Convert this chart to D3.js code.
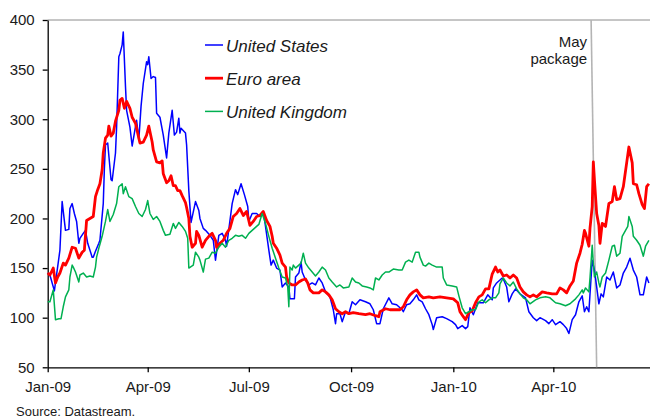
<!DOCTYPE html>
<html>
<head>
<meta charset="utf-8">
<script src="https://cdn.jsdelivr.net/npm/d3@7"></script>
<style>
body { margin: 0; background: #fff; }
svg text { font-family: "Liberation Sans", Arial, sans-serif; fill: #1a1a1a; }
</style>
</head>
<body>
<svg id="chart" width="650" height="418"></svg>
<script>
// ---- data ----
var xTicks = ["2009-01-01", "2009-04-01", "2009-07-01", "2009-10-01", "2010-01-01", "2010-04-01"];
var yTicks = [50, 100, 150, 200, 250, 300, 350, 400];
var xDomain = ["2009-01-01", "2010-06-27"];
var seriesNames = ["United States", "Euro area", "United Kingdom"];
var seriesColors = ["#0000ff", "#ff0000", "#00b050"];
var mayPackage = ["2010-05-05", "2010-05-10"];   // the marker is drawn a little slanted in the original
var mayLabel = ["May", "package"];
var sourceNote = "Source: Datastream.";

var usData = [
    ["2009-01-01",145],["2009-01-03",143],["2009-01-07",127],["2009-01-12",168],["2009-01-14",217],["2009-01-17",188],
    ["2009-01-20",189],["2009-01-21",210],["2009-01-23",215],["2009-01-25",205],["2009-01-27",197],["2009-01-29",175],
    ["2009-01-30",180],["2009-02-02",185],["2009-02-04",188],["2009-02-06",175],["2009-02-10",161],["2009-02-11",161],
    ["2009-02-13",167],["2009-02-16",175],["2009-02-17",178],["2009-02-20",215],["2009-02-21",250],["2009-02-22",274],
    ["2009-02-24",276],["2009-02-27",239],["2009-02-28",238],["2009-03-03",266],["2009-03-04",292],["2009-03-06",363],
    ["2009-03-07",366],["2009-03-09",375],["2009-03-10",388],["2009-03-12",333],["2009-03-13",309],["2009-03-16",292],
    ["2009-03-18",273],["2009-03-20",286],["2009-03-22",299],["2009-03-24",279],["2009-03-26",313],["2009-03-28",336],
    ["2009-03-31",358],["2009-04-01",355],["2009-04-02",363],["2009-04-04",341],["2009-04-06",343],["2009-04-08",342],
    ["2009-04-09",306],["2009-04-12",302],["2009-04-15",284],["2009-04-18",261],["2009-04-20",286],["2009-04-23",309],
    ["2009-04-25",284],["2009-04-27",287],["2009-04-29",301],["2009-04-30",286],["2009-05-01",291],["2009-05-05",286],
    ["2009-05-06",274],["2009-05-08",228],["2009-05-10",196],["2009-05-14",217],["2009-05-17",208],["2009-05-18",200],
    ["2009-05-21",190],["2009-05-23",188],["2009-05-27",183],["2009-05-30",178],["2009-06-01",158],["2009-06-04",183],
    ["2009-06-07",185],["2009-06-10",178],["2009-06-11",172],["2009-06-16",215],["2009-06-19",229],["2009-06-21",224],
    ["2009-06-24",235],["2009-06-27",224],["2009-06-30",212],["2009-07-01",197],["2009-07-04",205],["2009-07-08",205],
    ["2009-07-11",202],["2009-07-14",207],["2009-07-16",192],["2009-07-19",168],["2009-07-21",153],["2009-07-23",158],
    ["2009-07-26",150],["2009-07-29",148],["2009-07-31",131],["2009-08-03",135],["2009-08-06",131],["2009-08-07",119],
    ["2009-08-11",119],["2009-08-12",141],["2009-08-15",145],["2009-08-17",156],["2009-08-18",146],["2009-08-21",138],
    ["2009-08-24",133],["2009-08-27",135],["2009-08-30",133],["2009-09-02",140],["2009-09-05",135],["2009-09-08",126],
    ["2009-09-12",121],["2009-09-15",108],["2009-09-17",94],["2009-09-18",104],["2009-09-21",104],["2009-09-23",96],
    ["2009-09-26",106],["2009-09-29",104],["2009-10-02",116],["2009-10-05",113],["2009-10-09",118],["2009-10-14",116],
    ["2009-10-18",114],["2009-10-21",108],["2009-10-24",94],["2009-10-27",94],["2009-10-30",109],["2009-11-04",120],
    ["2009-11-07",114],["2009-11-11",113],["2009-11-16",108],["2009-11-17",106],["2009-11-20",113],["2009-11-23",114],
    ["2009-11-26",118],["2009-11-29",123],["2009-12-01",118],["2009-12-04",116],["2009-12-07",109],["2009-12-10",103],
    ["2009-12-13",93],["2009-12-14",88],["2009-12-17",100],["2009-12-22",101],["2009-12-26",99],["2009-12-31",96],
    ["2010-01-03",93],["2010-01-05",89],["2010-01-09",92],["2010-01-12",89],["2010-01-14",91],["2010-01-16",110],
    ["2010-01-19",103],["2010-01-20",106],["2010-01-23",115],["2010-01-28",115],["2010-02-01",123],["2010-02-05",118],
    ["2010-02-06",130],["2010-02-09",135],["2010-02-14",140],["2010-02-15",139],["2010-02-18",131],["2010-02-20",116],
    ["2010-02-23",124],["2010-02-26",129],["2010-03-02",124],["2010-03-07",120],["2010-03-10",106],["2010-03-14",100],
    ["2010-03-17",97],["2010-03-20",100],["2010-03-25",97],["2010-03-28",94],["2010-03-31",98],["2010-04-03",93],
    ["2010-04-07",96],["2010-04-10",93],["2010-04-13",89],["2010-04-15",84],["2010-04-18",98],["2010-04-21",103],
    ["2010-04-24",116],["2010-04-27",122],["2010-04-29",106],["2010-05-01",111],["2010-05-03",106],["2010-05-06",158],
    ["2010-05-08",148],["2010-05-10",131],["2010-05-12",114],["2010-05-14",124],["2010-05-16",121],["2010-05-19",141],
    ["2010-05-22",138],["2010-05-25",146],["2010-05-28",130],["2010-05-31",133],["2010-06-03",145],["2010-06-06",151],
    ["2010-06-09",160],["2010-06-12",148],["2010-06-15",141],["2010-06-18",123],["2010-06-21",123],["2010-06-24",141],
    ["2010-06-26",135]
];

var euroData = [
    ["2009-01-01",145],["2009-01-03",143],["2009-01-06",150],["2009-01-08",135],["2009-01-10",141],["2009-01-12",145],
    ["2009-01-15",155],["2009-01-17",153],["2009-01-20",160],["2009-01-23",171],["2009-01-26",170],["2009-01-29",160],
    ["2009-02-01",166],["2009-02-03",168],["2009-02-05",198],["2009-02-08",200],["2009-02-11",202],["2009-02-13",222],
    ["2009-02-15",229],["2009-02-17",235],["2009-02-19",249],["2009-02-20",266],["2009-02-22",281],["2009-02-24",284],
    ["2009-02-25",293],["2009-02-27",283],["2009-03-01",286],["2009-03-03",298],["2009-03-06",309],["2009-03-07",319],
    ["2009-03-09",321],["2009-03-11",311],["2009-03-13",318],["2009-03-16",311],["2009-03-18",302],["2009-03-21",296],
    ["2009-03-23",286],["2009-03-25",276],["2009-03-28",277],["2009-03-31",284],["2009-04-02",293],["2009-04-05",277],
    ["2009-04-06",269],["2009-04-09",257],["2009-04-12",256],["2009-04-14",258],["2009-04-15",245],["2009-04-18",236],
    ["2009-04-20",238],["2009-04-22",243],["2009-04-24",233],["2009-04-26",233],["2009-04-28",228],["2009-04-30",228],
    ["2009-05-02",223],["2009-05-05",216],["2009-05-06",211],["2009-05-08",200],["2009-05-09",182],["2009-05-11",171],
    ["2009-05-14",175],["2009-05-15",187],["2009-05-17",183],["2009-05-20",171],["2009-05-23",178],["2009-05-26",182],
    ["2009-05-29",185],["2009-06-01",178],["2009-06-02",171],["2009-06-05",175],["2009-06-08",178],["2009-06-11",185],
    ["2009-06-14",190],["2009-06-17",202],["2009-06-20",205],["2009-06-23",210],["2009-06-26",203],["2009-06-29",207],
    ["2009-07-02",193],["2009-07-05",197],["2009-07-08",202],["2009-07-11",203],["2009-07-14",207],["2009-07-17",198],
    ["2009-07-20",192],["2009-07-22",182],["2009-07-23",175],["2009-07-26",170],["2009-07-29",163],["2009-07-31",155],
    ["2009-08-03",151],["2009-08-04",141],["2009-08-06",135],["2009-08-09",133],["2009-08-12",133],["2009-08-15",136],
    ["2009-08-18",138],["2009-08-21",139],["2009-08-23",135],["2009-08-25",128],["2009-08-28",125],["2009-09-02",125],
    ["2009-09-05",128],["2009-09-08",126],["2009-09-11",123],["2009-09-14",118],["2009-09-17",109],["2009-09-20",106],
    ["2009-09-23",104],["2009-09-26",106],["2009-09-29",104],["2009-10-03",105],["2009-10-08",104],["2009-10-14",103],
    ["2009-10-18",104],["2009-10-23",102],["2009-10-26",101],["2009-10-27",106],["2009-11-01",109],["2009-11-05",108],
    ["2009-11-14",108],["2009-11-17",111],["2009-11-20",118],["2009-11-23",123],["2009-11-26",126],["2009-11-29",128],
    ["2009-12-02",123],["2009-12-05",120],["2009-12-10",121],["2009-12-14",120],["2009-12-20",121],["2009-12-26",120],
    ["2010-01-01",119],["2010-01-05",115],["2010-01-07",106],["2010-01-10",101],["2010-01-12",98],["2010-01-15",105],
    ["2010-01-18",107],["2010-01-21",115],["2010-01-24",121],["2010-01-27",123],["2010-01-30",129],["2010-02-02",129],
    ["2010-02-05",144],["2010-02-08",151],["2010-02-10",146],["2010-02-12",148],["2010-02-15",142],["2010-02-18",143],
    ["2010-02-21",140],["2010-02-24",143],["2010-02-27",140],["2010-03-02",131],["2010-03-05",126],["2010-03-08",123],
    ["2010-03-11",121],["2010-03-14",123],["2010-03-17",121],["2010-03-22",126],["2010-03-26",125],["2010-03-31",124],
    ["2010-04-04",124],["2010-04-07",130],["2010-04-10",128],["2010-04-13",125],["2010-04-16",132],["2010-04-19",137],
    ["2010-04-22",155],["2010-04-25",165],["2010-04-27",174],["2010-04-29",188],["2010-04-30",185],["2010-05-03",172],
    ["2010-05-04",190],["2010-05-06",212],["2010-05-07",257],["2010-05-08",239],["2010-05-10",205],["2010-05-12",193],
    ["2010-05-13",175],["2010-05-15",195],["2010-05-18",192],["2010-05-21",215],["2010-05-24",217],["2010-05-26",232],
    ["2010-05-28",219],["2010-05-31",220],["2010-06-03",232],["2010-06-06",256],["2010-06-08",272],["2010-06-11",256],
    ["2010-06-12",235],["2010-06-15",234],["2010-06-17",225],["2010-06-20",214],["2010-06-22",210],["2010-06-24",232],
    ["2010-06-26",235]
];

var ukData = [
    ["2009-01-01",116],["2009-01-03",116],["2009-01-06",128],["2009-01-08",98],["2009-01-11",99],["2009-01-13",99],
    ["2009-01-15",111],["2009-01-17",121],["2009-01-20",128],["2009-01-21",141],["2009-01-23",153],["2009-01-24",151],
    ["2009-01-26",146],["2009-01-29",136],["2009-01-30",143],["2009-02-02",145],["2009-02-05",141],["2009-02-08",142],
    ["2009-02-11",141],["2009-02-13",151],["2009-02-14",161],["2009-02-16",170],["2009-02-19",182],["2009-02-22",197],
    ["2009-02-24",209],["2009-02-26",197],["2009-03-01",204],["2009-03-04",215],["2009-03-06",232],["2009-03-09",235],
    ["2009-03-10",225],["2009-03-12",232],["2009-03-15",222],["2009-03-18",220],["2009-03-21",212],["2009-03-24",205],
    ["2009-03-27",202],["2009-03-30",209],["2009-04-01",218],["2009-04-03",205],["2009-04-06",199],["2009-04-09",202],
    ["2009-04-12",197],["2009-04-15",188],["2009-04-17",183],["2009-04-21",184],["2009-04-24",195],["2009-04-26",190],
    ["2009-04-29",196],["2009-05-02",192],["2009-05-05",187],["2009-05-07",180],["2009-05-08",150],["2009-05-12",153],
    ["2009-05-14",166],["2009-05-17",161],["2009-05-18",158],["2009-05-21",146],["2009-05-23",159],["2009-05-26",160],
    ["2009-05-29",166],["2009-06-01",165],["2009-06-04",171],["2009-06-07",175],["2009-06-10",171],["2009-06-13",178],
    ["2009-06-16",180],["2009-06-19",183],["2009-06-22",182],["2009-06-25",183],["2009-06-28",180],["2009-07-01",185],
    ["2009-07-04",188],["2009-07-07",191],["2009-07-10",194],["2009-07-13",205],["2009-07-16",195],["2009-07-19",182],
    ["2009-07-22",170],["2009-07-25",160],["2009-07-28",150],["2009-07-31",141],["2009-08-03",140],["2009-08-05",131],
    ["2009-08-06",111],["2009-08-07",151],["2009-08-09",148],["2009-08-10",153],["2009-08-12",150],["2009-08-15",153],
    ["2009-08-17",155],["2009-08-19",165],["2009-08-21",155],["2009-08-24",150],["2009-08-27",146],["2009-08-30",142],
    ["2009-09-02",146],["2009-09-05",151],["2009-09-08",148],["2009-09-11",140],["2009-09-14",136],["2009-09-18",131],
    ["2009-09-21",133],["2009-09-24",130],["2009-09-29",131],["2009-10-02",140],["2009-10-05",136],["2009-10-08",135],
    ["2009-10-11",132],["2009-10-15",131],["2009-10-18",130],["2009-10-21",128],["2009-10-23",140],["2009-10-26",138],
    ["2009-10-29",143],["2009-11-01",146],["2009-11-04",146],["2009-11-08",149],["2009-11-13",148],["2009-11-16",148],
    ["2009-11-19",156],["2009-11-22",158],["2009-11-25",156],["2009-11-28",166],["2009-12-01",166],["2009-12-02",161],
    ["2009-12-05",153],["2009-12-07",152],["2009-12-10",155],["2009-12-13",153],["2009-12-17",151],["2009-12-22",151],
    ["2009-12-23",140],["2009-12-26",133],["2009-12-31",132],["2010-01-04",131],["2010-01-06",122],["2010-01-09",110],
    ["2010-01-12",104],["2010-01-15",106],["2010-01-18",108],["2010-01-21",108],["2010-01-24",116],["2010-01-27",118],
    ["2010-01-30",115],["2010-02-02",118],["2010-02-05",120],["2010-02-08",120],["2010-02-11",125],["2010-02-12",134],
    ["2010-02-15",140],["2010-02-18",135],["2010-02-21",132],["2010-02-24",136],["2010-02-27",129],["2010-03-02",124],
    ["2010-03-05",120],["2010-03-08",118],["2010-03-11",114],["2010-03-16",118],["2010-03-20",120],["2010-03-25",121],
    ["2010-03-29",120],["2010-04-03",115],["2010-04-07",114],["2010-04-12",112],["2010-04-16",114],["2010-04-21",119],
    ["2010-04-24",123],["2010-04-27",128],["2010-04-28",125],["2010-04-30",130],["2010-05-03",126],["2010-05-04",140],
    ["2010-05-06",173],["2010-05-07",155],["2010-05-08",141],["2010-05-10",146],["2010-05-12",135],["2010-05-13",131],
    ["2010-05-15",141],["2010-05-18",145],["2010-05-21",158],["2010-05-24",172],["2010-05-26",173],["2010-05-28",162],
    ["2010-05-31",165],["2010-06-02",182],["2010-06-05",188],["2010-06-07",192],["2010-06-08",202],["2010-06-11",192],
    ["2010-06-12",182],["2010-06-15",178],["2010-06-18",173],["2010-06-21",162],["2010-06-23",172],["2010-06-26",178]
];

var seriesData = [usData, euroData, ukData];
var seriesWidths = [1.5, 2.8, 1.5];

// ---- drawing ----
function draw_chart() {
    var svg = d3.select("#chart"),
        parse = d3.timeParse("%Y-%m-%d"),
        margins = {"left": 47.7, "right": 0, "top": 20, "bottom": 50.7},
        width = 650,
        height = 418;

    var x = d3.scaleTime().domain(xDomain.map(parse)).range([margins.left, width - margins.right]),
        y = d3.scaleLinear().domain([50, 400]).range([height - margins.bottom, margins.top]);

    // gray frame line along the top
    svg.append("line")
        .attr("x1", margins.left).attr("x2", width)
        .attr("y1", y(400)).attr("y2", y(400))
        .attr("stroke", "#8c8c8c").attr("stroke-width", 1);

    var yAxis = svg.append("g").attr("transform", "translate(" + [margins.left, 0] + ")")
        .call(d3.axisLeft(y).tickValues(yTicks).tickSize(5).tickSizeOuter(0).tickPadding(8));
    var xAxis = svg.append("g").attr("transform", "translate(" + [0, y(50)] + ")")
        .call(d3.axisBottom(x).tickValues(xTicks.map(parse)).tickFormat(d3.timeFormat("%b-%y"))
            .tickSize(5).tickSizeOuter(0).tickPadding(9));

    [yAxis, xAxis].forEach(function(ax) {
        ax.select(".domain").attr("stroke", "#000").attr("stroke-width", 1.3);
        ax.selectAll(".tick line").attr("stroke", "#000").attr("stroke-width", 1.3);
        ax.selectAll(".tick text").style("font-size", "15px")
            .style("font-family", "\"Liberation Sans\", Arial, sans-serif").attr("fill", "#1a1a1a");
    });

    // May package marker
    var pk = mayPackage.map(parse);
    svg.append("line")
        .attr("x1", x(pk[0])).attr("y1", y(400))
        .attr("x2", x(pk[1])).attr("y2", y(50))
        .attr("stroke", "#b4b4b4").attr("stroke-width", 1.6);

    svg.append("text").attr("text-anchor", "end").style("font-size", "15px")
        .selectAll("tspan").data(mayLabel).enter().append("tspan")
        .attr("x", x(pk[0]) - 4)
        .attr("y", (d, i) => 46.5 + i * 17)
        .text(d => d);

    var line = d3.line()
        .x(d => x(parse(d[0])))
        .y(d => y(d[1]));

    svg.append("g").selectAll("path")
        .data(seriesData)
        .enter().append("path")
        .attr("fill", "none")
        .attr("stroke", (d, i) => seriesColors[i])
        .attr("stroke-width", (d, i) => seriesWidths[i])
        .attr("stroke-linejoin", "round")
        .attr("d", line);

    // legend
    var legend = svg.append("g").selectAll("g")
        .data(seriesNames)
        .enter().append("g")
        .attr("transform", (d, i) => "translate(" + [205, 45 + i * 33.2] + ")");

    legend.append("line").attr("x1", 0).attr("x2", 18)
        .attr("stroke", (d, i) => seriesColors[i])
        .attr("stroke-width", (d, i) => seriesWidths[i]);
    legend.append("text").attr("x", 21).attr("y", 6.5)
        .style("font-size", "17px").style("font-style", "italic")
        .attr("fill", "#000").text(d => d);

    svg.append("text").attr("x", 16).attr("y", 416)
        .style("font-size", "13px").text(sourceNote);
}

draw_chart();
</script>
</body>
</html>
